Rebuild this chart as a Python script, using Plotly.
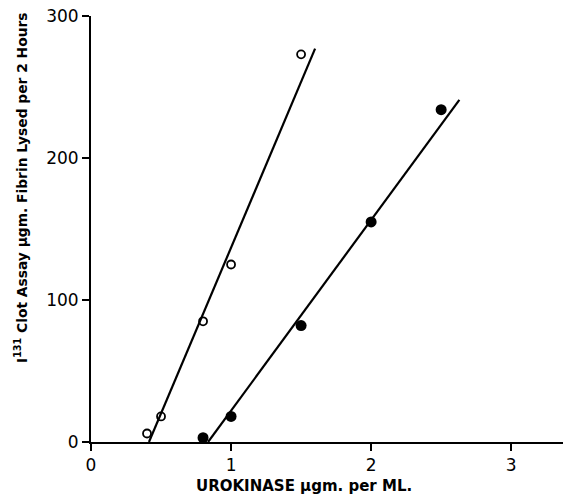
import plotly.graph_objects as go

# Open circles
open_x = [0.4, 0.5, 0.8, 1.0, 1.5]
open_y = [6, 18, 85, 125, 273]
# Filled circles
filled_x = [0.8, 1.0, 1.5, 2.0, 2.5]
filled_y = [3, 18, 82, 155, 234]
# Fitted lines (endpoints)
open_line_x = [0.414, 1.6]
open_line_y = [0, 277]
filled_line_x = [0.836, 2.63]
filled_line_y = [0, 241]

x_ticks = [0, 1, 2, 3]
y_ticks = [0, 100, 200, 300]

fig = go.Figure()
fig.add_trace(go.Scatter(x=open_line_x, y=open_line_y, mode="lines",
                         line=dict(color="black", width=2.2), cliponaxis=False, showlegend=False))
fig.add_trace(go.Scatter(x=filled_line_x, y=filled_line_y, mode="lines",
                         line=dict(color="black", width=2.2), cliponaxis=False, showlegend=False))
fig.add_trace(go.Scatter(x=open_x, y=open_y, mode="markers",
                         marker=dict(symbol="circle-open", size=8, color="black", line=dict(width=1.8)),
                         cliponaxis=False, showlegend=False))
fig.add_trace(go.Scatter(x=filled_x, y=filled_y, mode="markers",
                         marker=dict(symbol="circle", size=11, color="black"),
                         cliponaxis=False, showlegend=False))

axis_common = dict(showgrid=False, zeroline=False, showline=True, linecolor="black", linewidth=2,
                   ticks="outside", ticklen=7, tickwidth=2, tickcolor="black",
                   tickfont=dict(family="DejaVu Sans", size=17, color="black"))

fig.update_layout(
    width=563, height=500,
    margin=dict(l=91, r=0, t=16, b=58),
    plot_bgcolor="white", paper_bgcolor="white",
    xaxis=dict(range=[0, 3.37], tickvals=x_ticks, ticktext=[str(v) for v in x_ticks], **axis_common),
    yaxis=dict(range=[0, 300], tickvals=y_ticks, ticktext=[str(v) for v in y_ticks], **axis_common),
    annotations=[
        dict(text="<b>UROKINASE μgm. per ML.</b>", xref="paper", yref="paper",
             x=(304 - 91) / 472, y=-(486 - 442) / 426, xanchor="center", yanchor="middle",
             showarrow=False, font=dict(family="DejaVu Sans", size=15, color="black")),
        dict(text="<b>I<sup>131</sup> Clot Assay μgm. Fibrin Lysed per 2 Hours</b>", xref="paper", yref="paper",
             x=-(91 - 21) / 472, y=(442 - 188) / 426, xanchor="center", yanchor="middle", textangle=-90,
             showarrow=False, font=dict(family="DejaVu Sans", size=13.8, color="black")),
    ],
)

fig.write_html("out.html", config={"displayModeBar": False},
               post_script="document.body.style.margin='0';document.body.style.padding='0';"
                           "Plotly.Plots.resize(document.getElementById('{plot_id}'));")
